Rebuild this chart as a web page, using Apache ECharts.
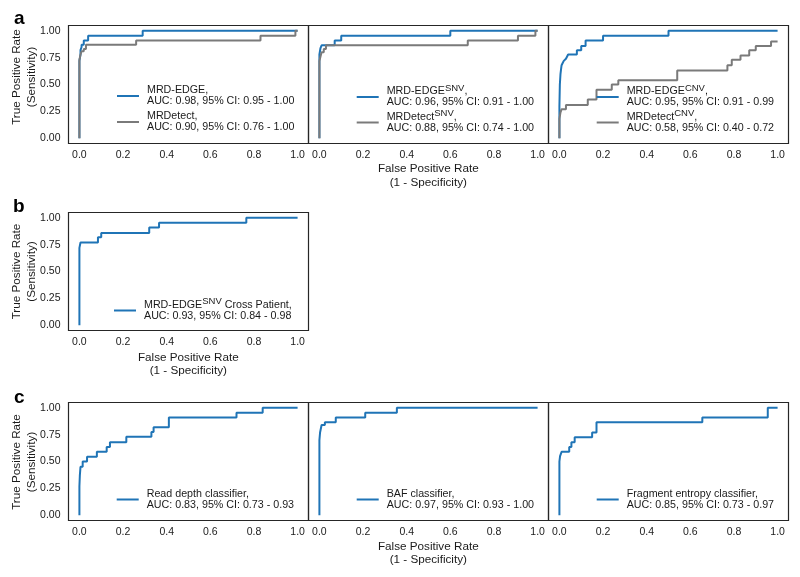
<!DOCTYPE html>
<html>
<head>
<meta charset="utf-8">
<script src="https://cdn.jsdelivr.net/npm/echarts@6/dist/echarts.min.js"></script>
<style>
html,body{margin:0;padding:0;background:#fff;}
#chart{width:800px;height:577px;}
</style>
</head>
<body>
<div id="chart"></div>
<script>
// ---------- tick labels ----------
const xTicks = [0, 0.2, 0.4, 0.6, 0.8, 1.0];
const yTicks = [0, 0.25, 0.5, 0.75, 1.0];

// ---------- panel a, left: MRD-EDGE vs MRDetect ----------
const mrdEdgeFpr = [0, 0, 0.005, 0.005, 0.01, 0.01, 0.02, 0.02, 0.04, 0.04, 0.29, 0.29, 1.0];
const mrdEdgeTpr = [0, 0.72, 0.78, 0.82, 0.85, 0.87, 0.87, 0.91, 0.91, 0.955, 0.955, 1.0, 1.0];
const mrdDetectFpr = [0, 0, 0.005, 0.005, 0.01, 0.01, 0.02, 0.02, 0.03, 0.03, 0.26, 0.26, 0.83, 0.83, 0.99, 0.99, 1.0];
const mrdDetectTpr = [0, 0.73, 0.73, 0.78, 0.78, 0.81, 0.81, 0.83, 0.83, 0.87, 0.87, 0.91, 0.91, 0.955, 0.955, 1.0, 1.0];

// ---------- panel a, middle: SNV ----------
const edgeSnvFpr = [0, 0, 0.005, 0.005, 0.01, 0.01, 0.07, 0.07, 0.1, 0.1, 0.6, 0.6, 1.0];
const edgeSnvTpr = [0, 0.78, 0.78, 0.84, 0.84, 0.865, 0.865, 0.91, 0.91, 0.955, 0.955, 1.0, 1.0];
const detectSnvFpr = [0, 0, 0.005, 0.005, 0.01, 0.01, 0.02, 0.02, 0.03, 0.03, 0.68, 0.68, 0.91, 0.91, 0.99, 0.99, 1.0];
const detectSnvTpr = [0, 0.72, 0.72, 0.76, 0.76, 0.8, 0.8, 0.83, 0.83, 0.865, 0.865, 0.91, 0.91, 0.955, 0.955, 1.0, 1.0];

// ---------- panel a, right: CNV ----------
const edgeCnvFpr = [0, 0, 0.002, 0.005, 0.008, 0.01, 0.015, 0.02, 0.03, 0.04, 0.08, 0.08, 0.1, 0.1, 0.12, 0.12, 0.2, 0.2, 0.5, 0.5, 1.0];
const edgeCnvTpr = [0, 0.3, 0.5, 0.6, 0.65, 0.68, 0.7, 0.72, 0.74, 0.78, 0.78, 0.82, 0.82, 0.86, 0.86, 0.91, 0.91, 0.955, 0.955, 1.0, 1.0];
const detectCnvFpr = [0, 0, 0.005, 0.005, 0.01, 0.01, 0.03, 0.03, 0.13, 0.13, 0.17, 0.17, 0.24, 0.24, 0.27, 0.27, 0.54, 0.54, 0.77, 0.77, 0.79, 0.79, 0.83, 0.83, 0.87, 0.87, 0.9, 0.9, 0.97, 0.97, 1.0];
const detectCnvTpr = [0, 0.18, 0.18, 0.24, 0.24, 0.27, 0.27, 0.31, 0.31, 0.36, 0.36, 0.45, 0.45, 0.5, 0.5, 0.54, 0.54, 0.63, 0.63, 0.68, 0.68, 0.73, 0.73, 0.77, 0.77, 0.82, 0.82, 0.86, 0.86, 0.9, 0.9];

// ---------- panel b: cross patient ----------
const crossFpr = [0, 0, 0.005, 0.005, 0.085, 0.085, 0.1, 0.1, 0.32, 0.32, 0.365, 0.365, 0.765, 0.765, 1.0];
const crossTpr = [0, 0.72, 0.72, 0.77, 0.77, 0.82, 0.82, 0.86, 0.86, 0.91, 0.91, 0.955, 0.955, 1.0, 1.0];

// ---------- panel c ----------
const readDepthFpr = [0, 0, 0.002, 0.005, 0.015, 0.015, 0.035, 0.035, 0.08, 0.08, 0.125, 0.125, 0.14, 0.14, 0.215, 0.215, 0.33, 0.33, 0.34, 0.34, 0.41, 0.41, 0.72, 0.72, 0.84, 0.84, 1.0];
const readDepthTpr = [0, 0.27, 0.37, 0.45, 0.45, 0.5, 0.5, 0.545, 0.545, 0.59, 0.59, 0.635, 0.635, 0.68, 0.68, 0.73, 0.73, 0.775, 0.775, 0.82, 0.82, 0.91, 0.91, 0.955, 0.955, 1.0, 1.0];
const bafFpr = [0, 0, 0.003, 0.003, 0.01, 0.01, 0.025, 0.025, 0.075, 0.075, 0.21, 0.21, 0.355, 0.355, 1.0];
const bafTpr = [0, 0.7, 0.7, 0.77, 0.77, 0.84, 0.84, 0.865, 0.865, 0.91, 0.91, 0.955, 0.955, 1.0, 1.0];
const entropyFpr = [0, 0, 0.003, 0.01, 0.045, 0.045, 0.055, 0.055, 0.07, 0.07, 0.15, 0.15, 0.17, 0.17, 0.655, 0.655, 0.955, 0.955, 1.0];
const entropyTpr = [0, 0.5, 0.55, 0.59, 0.59, 0.635, 0.635, 0.68, 0.68, 0.725, 0.725, 0.77, 0.77, 0.865, 0.865, 0.91, 0.91, 1.0, 1.0];

// ---------- legend texts ----------
const legendNames = {
  'MRD-EDGE': ['{n|MRD-EDGE,}', 'AUC: 0.98, 95% CI: 0.95 - 1.00'],
  'MRDetect': ['{n|MRDetect,}', 'AUC: 0.90, 95% CI: 0.76 - 1.00'],
  'MRD-EDGE SNV': ['{n|MRD-EDGE}{s|SNV}{n|,}', 'AUC: 0.96, 95% CI: 0.91 - 1.00'],
  'MRDetect SNV': ['{n|MRDetect}{s|SNV}{n|,}', 'AUC: 0.88, 95% CI: 0.74 - 1.00'],
  'MRD-EDGE CNV': ['{n|MRD-EDGE}{s|CNV}{n|,}', 'AUC: 0.95, 95% CI: 0.91 - 0.99'],
  'MRDetect CNV': ['{n|MRDetect}{s|CNV}{n|,}', 'AUC: 0.58, 95% CI: 0.40 - 0.72'],
  'MRD-EDGE SNV Cross Patient': ['{n|MRD-EDGE}{s|SNV}{n| Cross Patient,}', 'AUC: 0.93, 95% CI: 0.84 - 0.98'],
  'Read depth classifier': ['{n|Read depth classifier,}', 'AUC: 0.83, 95% CI: 0.73 - 0.93'],
  'BAF classifier': ['{n|BAF classifier,}', 'AUC: 0.97, 95% CI: 0.93 - 1.00'],
  'Fragment entropy classifier': ['{n|Fragment entropy classifier,}', 'AUC: 0.85, 95% CI: 0.73 - 0.97']
};

const BLUE = '#1f74b6';
const GREY = '#7a7a7a';
const FONT = '"Liberation Sans", Arial, sans-serif';
const TXT = '#1a1a1a';

const grids = [
  {left: 68.5, top: 25.5, width: 240, height: 118},
  {left: 308.5, top: 25.5, width: 240, height: 118},
  {left: 548.5, top: 25.5, width: 240, height: 118},
  {left: 68.5, top: 212.5, width: 240, height: 118},
  {left: 68.5, top: 402.5, width: 240, height: 118},
  {left: 308.5, top: 402.5, width: 240, height: 118},
  {left: 548.5, top: 402.5, width: 240, height: 118}
];
const showYLabels = [true, false, false, true, true, false, false];

const seriesDefs = [
  {name: 'MRD-EDGE', g: 0, x: mrdEdgeFpr, y: mrdEdgeTpr, c: BLUE},
  {name: 'MRDetect', g: 0, x: mrdDetectFpr, y: mrdDetectTpr, c: GREY},
  {name: 'MRD-EDGE SNV', g: 1, x: edgeSnvFpr, y: edgeSnvTpr, c: BLUE},
  {name: 'MRDetect SNV', g: 1, x: detectSnvFpr, y: detectSnvTpr, c: GREY},
  {name: 'MRD-EDGE CNV', g: 2, x: edgeCnvFpr, y: edgeCnvTpr, c: BLUE},
  {name: 'MRDetect CNV', g: 2, x: detectCnvFpr, y: detectCnvTpr, c: GREY},
  {name: 'MRD-EDGE SNV Cross Patient', g: 3, x: crossFpr, y: crossTpr, c: BLUE},
  {name: 'Read depth classifier', g: 4, x: readDepthFpr, y: readDepthTpr, c: BLUE},
  {name: 'BAF classifier', g: 5, x: bafFpr, y: bafTpr, c: BLUE},
  {name: 'Fragment entropy classifier', g: 6, x: entropyFpr, y: entropyTpr, c: BLUE}
];

const legendPos = [
  {names: ['MRD-EDGE', 'MRDetect'], left: 117, top: 85, gap: 4},
  {names: ['MRD-EDGE SNV', 'MRDetect SNV'], left: 356.7, top: 83, gap: 0.5},
  {names: ['MRD-EDGE CNV', 'MRDetect CNV'], left: 596.7, top: 83, gap: 0.5},
  {names: ['MRD-EDGE SNV Cross Patient'], left: 114, top: 296.5, gap: 4},
  {names: ['Read depth classifier'], left: 116.7, top: 488.5, gap: 4},
  {names: ['BAF classifier'], left: 356.7, top: 488.5, gap: 4},
  {names: ['Fragment entropy classifier'], left: 596.7, top: 488.5, gap: 4}
];

const chart = echarts.init(document.getElementById('chart'), null, {renderer: 'canvas'});

const option = {
  animation: false,
  backgroundColor: '#fff',
  grid: grids.map(g => Object.assign({show: true, borderColor: '#262626', borderWidth: 1.2, backgroundColor: 'transparent', containLabel: false}, g)),
  xAxis: grids.map((g, i) => ({
    gridIndex: i, type: 'value', min: -0.05, max: 1.05,
    axisLine: {show: false}, axisTick: {show: false}, splitLine: {show: false},
    axisLabel: {customValues: xTicks, formatter: v => v.toFixed(1), margin: 6, fontSize: 10.5, color: TXT, fontFamily: FONT}
  })),
  yAxis: grids.map((g, i) => ({
    gridIndex: i, type: 'value', min: -0.05, max: 1.05,
    axisLine: {show: false}, axisTick: {show: false}, splitLine: {show: false},
    axisLabel: {show: showYLabels[i], customValues: yTicks, formatter: v => v.toFixed(2), margin: 8, fontSize: 10.5, color: TXT, fontFamily: FONT}
  })),
  legend: legendPos.map(l => ({
    data: l.names, orient: 'vertical', left: l.left, top: l.top, padding: 0,
    icon: 'rect', itemWidth: 22, itemHeight: 2, itemGap: l.gap, selectedMode: false,
    formatter: name => legendNames[name][0] + '\n{n|' + legendNames[name][1] + '}',
    textStyle: {
      color: TXT, fontFamily: FONT, fontSize: 10.7, padding: [0, 0, 0, 3],
      rich: {
        n: {fontSize: 10.7, lineHeight: 11, color: TXT, fontFamily: FONT},
        s: {fontSize: 9.5, lineHeight: 4, verticalAlign: 'bottom', padding: [0, 0, 4, 0], color: TXT, fontFamily: FONT}
      }
    }
  })),
  series: seriesDefs.map(s => ({
    name: s.name, type: 'line', xAxisIndex: s.g, yAxisIndex: s.g,
    data: s.x.map((v, k) => [v, s.y[k]]),
    symbol: 'none', showSymbol: false,
    lineStyle: {width: 2, color: s.c}, itemStyle: {color: s.c},
    emphasis: {disabled: true}
  })),
  graphic: [
    {type: 'text', left: 14, top: 9, style: {text: 'a', font: 'bold 19px ' + FONT, fill: '#000'}},
    {type: 'text', left: 13, top: 197, style: {text: 'b', font: 'bold 19px ' + FONT, fill: '#000'}},
    {type: 'text', left: 14, top: 388, style: {text: 'c', font: 'bold 19px ' + FONT, fill: '#000'}},
    {type: 'text', x: 24.5, y: 77, rotation: Math.PI / 2, style: {text: 'True Positive Rate\n(Sensitivity)', align: 'center', verticalAlign: 'middle', lineHeight: 15, font: '11.7px ' + FONT, fill: TXT}},
    {type: 'text', x: 24.5, y: 271.5, rotation: Math.PI / 2, style: {text: 'True Positive Rate\n(Sensitivity)', align: 'center', verticalAlign: 'middle', lineHeight: 15, font: '11.7px ' + FONT, fill: TXT}},
    {type: 'text', x: 24.5, y: 462, rotation: Math.PI / 2, style: {text: 'True Positive Rate\n(Sensitivity)', align: 'center', verticalAlign: 'middle', lineHeight: 15, font: '11.7px ' + FONT, fill: TXT}},
    {type: 'text', x: 428.3, y: 176, style: {text: 'False Positive Rate\n(1 - Specificity)', align: 'center', verticalAlign: 'middle', lineHeight: 13.5, font: '11.7px ' + FONT, fill: TXT}},
    {type: 'text', x: 188.3, y: 364, style: {text: 'False Positive Rate\n(1 - Specificity)', align: 'center', verticalAlign: 'middle', lineHeight: 13, font: '11.7px ' + FONT, fill: TXT}},
    {type: 'text', x: 428.3, y: 553.5, style: {text: 'False Positive Rate\n(1 - Specificity)', align: 'center', verticalAlign: 'middle', lineHeight: 13, font: '11.7px ' + FONT, fill: TXT}}
  ]
};
chart.setOption(option);
</script>
</body>
</html>
